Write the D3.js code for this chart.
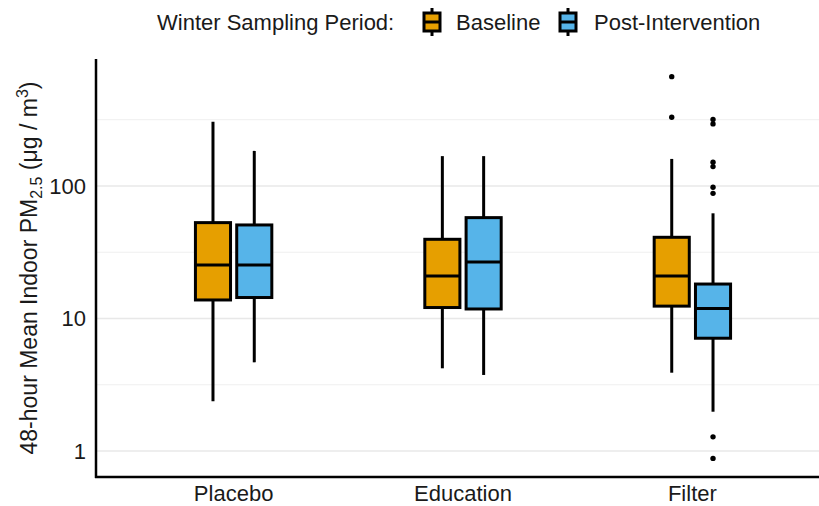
<!DOCTYPE html>
<html lang="en">
<head>
<meta charset="UTF-8">
<title>Indoor PM2.5 by arm</title>
<script src="https://d3js.org/d3.v7.min.js"></script>
<style>
    body { margin: 0; background: #fff; }
    svg text { font-family: "Liberation Sans", Arial, sans-serif; fill: #1a1a1a; }
</style>
</head>
<body>
<svg width="819" height="506"></svg>
<script>
    // categories and series
    const groups = ["Placebo", "Education", "Filter"];
    const periods = ["Baseline", "Post-Intervention"];
    const colors = ["#E69F00", "#56B4E9"];

    // [lower whisker, q1, median, q3, upper whisker] per group
    const baselineStats = [
        [2.38, 13.8, 25.3, 52.9, 305],
        [4.21, 12.1, 20.9, 39.6, 168],
        [3.9, 12.4, 20.9, 41, 160]
    ];
    const postStats = [
        [4.67, 14.4, 25.3, 50.8, 184],
        [3.75, 11.8, 26.7, 57.7, 168],
        [1.98, 7.1, 11.9, 18.2, 62.2]
    ];
    const baselineOutliers = [[], [], [330, 668]];
    const postOutliers = [[], [], [0.88, 1.28, 88, 97.7, 140, 151, 294, 318]];

    const yTicks = [1, 10, 100];
    const yMinor = [Math.sqrt(10), Math.sqrt(1000), Math.sqrt(100000)];

    const svg = d3.select("svg");
    const pLeft = 96, pRight = 830, pTop = 59, pBottom = 477;

    let x = d3.scalePoint().domain(groups).range([pLeft, pRight]).padding(0.6);
    let dodge = d3.scaleBand().domain(periods)
        .range([-0.18 * x.step(), 0.18 * x.step()])
        .paddingInner(0.15).paddingOuter(0.075);
    let y = d3.scaleLog().domain([0.637, 908]).range([pBottom, pTop]);

    // grid
    svg.append("g").selectAll("line").data(yMinor).enter().append("line")
        .attr("x1", pLeft).attr("x2", 819)
        .attr("y1", d => y(d)).attr("y2", d => y(d))
        .attr("stroke", "#efefef").attr("stroke-width", 1);
    svg.append("g").selectAll("line").data(yTicks).enter().append("line")
        .attr("x1", pLeft).attr("x2", 819)
        .attr("y1", d => y(d)).attr("y2", d => y(d))
        .attr("stroke", "#e8e8e8").attr("stroke-width", 1.6);

    // boxes
    let boxes = [];
    groups.forEach(function (g, i) {
        boxes.push({ group: g, period: periods[0], s: baselineStats[i], out: baselineOutliers[i], color: colors[0] });
        boxes.push({ group: g, period: periods[1], s: postStats[i], out: postOutliers[i], color: colors[1] });
    });

    let bw = dodge.bandwidth();
    let bg = svg.append("g").selectAll("g").data(boxes).enter().append("g")
        .attr("transform", d => "translate(" + (x(d.group) + dodge(d.period) + bw / 2) + ",0)");

    bg.append("line").attr("x1", 0).attr("x2", 0)
        .attr("y1", d => y(d.s[0])).attr("y2", d => y(d.s[4]))
        .attr("stroke", "#000").attr("stroke-width", 3);
    bg.append("rect")
        .attr("x", -bw / 2).attr("width", bw)
        .attr("y", d => y(d.s[3])).attr("height", d => y(d.s[1]) - y(d.s[3]))
        .attr("fill", d => d.color)
        .attr("stroke", "#000").attr("stroke-width", 3);
    bg.append("line").attr("x1", -bw / 2).attr("x2", bw / 2)
        .attr("y1", d => y(d.s[2])).attr("y2", d => y(d.s[2]))
        .attr("stroke", "#000").attr("stroke-width", 3);
    bg.selectAll("circle").data(d => d.out).enter().append("circle")
        .attr("cx", 0).attr("cy", d => y(d)).attr("r", 2.7).attr("fill", "#000");

    // axes
    svg.append("line").attr("x1", pLeft).attr("x2", pLeft).attr("y1", pTop).attr("y2", pBottom + 1)
        .attr("stroke", "#000").attr("stroke-width", 2.5);
    svg.append("line").attr("x1", pLeft - 1).attr("x2", 819).attr("y1", pBottom).attr("y2", pBottom)
        .attr("stroke", "#000").attr("stroke-width", 2.5);

    svg.append("g").selectAll("text").data(yTicks).enter().append("text")
        .attr("x", 86).attr("y", d => y(d)).attr("dy", "0.36em")
        .attr("text-anchor", "end").attr("font-size", 22)
        .text(d => d);

    svg.append("g").selectAll("text").data(groups).enter().append("text")
        .attr("x", d => x(d)).attr("y", 501)
        .attr("text-anchor", "middle").attr("font-size", 22)
        .text(d => d);

    // y title
    let yt = svg.append("text")
        .attr("transform", "translate(37," + ((pTop + pBottom) / 2) + ") rotate(-90)")
        .attr("text-anchor", "middle").attr("font-size", 23);
    yt.append("tspan").text("48-hour Mean Indoor PM");
    yt.append("tspan").attr("font-size", 16).attr("dy", 5).text("2.5");
    yt.append("tspan").attr("dy", -5).text(" (μg / m");
    yt.append("tspan").attr("font-size", 16).attr("dy", -9).text("3");
    yt.append("tspan").attr("dy", 9).text(")");

    // legend
    let lg = svg.append("g");
    lg.append("text").attr("x", 157).attr("y", 30).attr("font-size", 22).text("Winter Sampling Period:");
    let keyX = [423, 559], labX = [456, 594];
    periods.forEach(function (p, i) {
        let k = lg.append("g").attr("transform", "translate(" + (keyX[i] + 9) + ",0)");
        k.append("line").attr("x1", 0).attr("x2", 0).attr("y1", 8).attr("y2", 36)
            .attr("stroke", "#000").attr("stroke-width", 3);
        k.append("rect").attr("x", -8).attr("width", 16).attr("y", 13).attr("height", 18)
            .attr("fill", colors[i]).attr("stroke", "#000").attr("stroke-width", 3);
        k.append("line").attr("x1", -8).attr("x2", 8).attr("y1", 22).attr("y2", 22)
            .attr("stroke", "#000").attr("stroke-width", 3);
        lg.append("text").attr("x", labX[i]).attr("y", 30).attr("font-size", 22).text(p);
    });
</script>
</body>
</html>
